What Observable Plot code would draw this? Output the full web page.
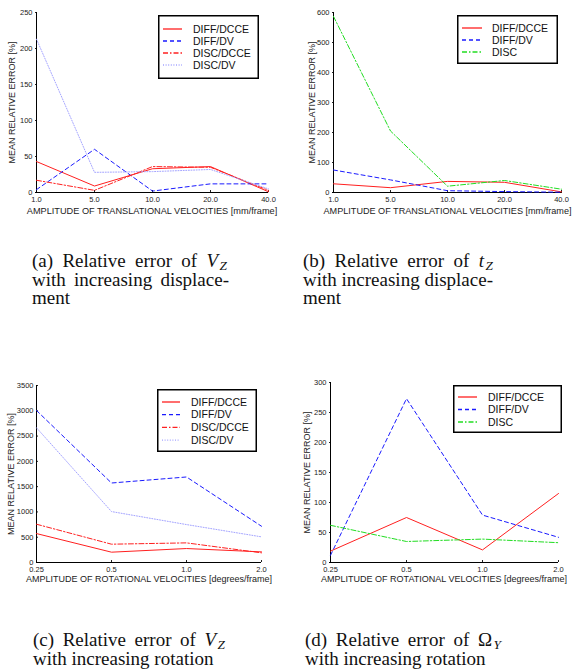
<!DOCTYPE html>
<html><head><meta charset="utf-8">
<script src="https://cdn.jsdelivr.net/npm/d3@7"></script>
<script src="https://cdn.jsdelivr.net/npm/@observablehq/plot@0.6"></script>
<style>
body{margin:0;background:#fff;}
#root{position:relative;width:573px;height:669px;overflow:hidden;background:#fff;}
.panel{position:absolute;}
.panel svg{overflow:visible;}
.legend{position:absolute;}
.cap{position:absolute;font-family:"Liberation Serif","Times New Roman",serif;font-size:19px;line-height:18.5px;color:#111;}
.cap .ln{display:block;white-space:nowrap;}
.cap .j{text-align:justify;text-align-last:justify;}
.cap sub{font-size:0.7em;vertical-align:-0.25em;line-height:0;margin-left:1.5px;}
</style></head><body><div id="root"></div>
<script>
// ---------- data ----------
const transCats = ["1.0","5.0","10.0","20.0","40.0"];
const rotCats = ["0.25","0.5","1.0","2.0"];
const namesA = ["DIFF/DCCE","DIFF/DV","DISC/DCCE","DISC/DV"];
const namesB = ["DIFF/DCCE","DIFF/DV","DISC"];
const namesC = ["DIFF/DCCE","DIFF/DV","DISC/DCCE","DISC/DV"];
const namesD = ["DIFF/DCCE","DIFF/DV","DISC"];
// (a) V_Z vs translational displacement
const a_diffDcce = [43, 9, 33, 36, 1];
const a_diffDv   = [4, 60, 2, 12, 12];
const a_discDcce = [17, 3, 36, 35, 3];
const a_discDv   = [213, 28, 29, 32, 5];
// (b) t_Z vs translational displacement
const b_diffDcce = [29, 16, 37, 34, 2];
const b_diffDv   = [75, 42, 6, 3, 1];
const b_disc     = [587, 205, 21, 40, 11];
// (c) V_Z vs rotation
const c_diffDcce = [572, 204, 276, 210];
const c_diffDv   = [3006, 1572, 1691, 717];
const c_discDcce = [757, 362, 388, 191];
const c_discDv   = [2664, 1007, 750, 507];
// (d) Omega_Y vs rotation
const d_diffDcce = [19, 75, 21, 115];
const d_diffDv   = [12, 273, 79, 42];
const d_disc     = [62, 35, 39, 33];
// tick values
const ticksA = [0, 50, 100, 150, 200, 250];
const ticksB = [0, 100, 200, 300, 400, 500, 600];
const ticksC = [0, 500, 1000, 1500, 2000, 2500, 3000, 3500];
const ticksD = [0, 50, 100, 150, 200, 250, 300];
const yLabel = "MEAN RELATIVE ERROR [%]";
const xLabelTrans = "AMPLITUDE OF TRANSLATIONAL VELOCITIES [mm/frame]";
const xLabelRot = "AMPLITUDE OF ROTATIONAL VELOCITIES [degrees/frame]";

// ---------- styles ----------
const styles = {
  "DIFF/DCCE": {stroke: "#ff2020", dash: null},
  "DIFF/DV":   {stroke: "#1a1aff", dash: "4,3"},
  "DISC/DCCE": {stroke: "#ff2020", dash: "5,2,1.5,2"},
  "DISC/DV":   {stroke: "#a4a4ff", dash: "1,1.6"},
  "DISC":      {stroke: "#22dd22", dash: "5,2,1.5,2"}
};
const root = document.getElementById("root");

function panel(cfg) {
  const rows = [];
  cfg.names.forEach((n, i) => cfg.series[i].forEach((v, j) => rows.push({s: n, x: cfg.cats[j], y: v})));
  const chart = Plot.plot({
    width: cfg.width, height: cfg.height,
    marginLeft: cfg.m[0], marginTop: cfg.m[1], marginRight: cfg.m[2], marginBottom: cfg.m[3],
    style: {fontFamily: "'Liberation Sans', Arial, sans-serif", fontSize: "7.5px", color: "#222", background: "transparent"},
    x: {type: "point", domain: cfg.cats, padding: 0},
    y: {domain: [0, cfg.ticks[cfg.ticks.length - 1]]},
    marks: [
      Plot.axisY({ticks: cfg.ticks, tickFormat: d3.format("d"), tickSize: -2, tickPadding: 5,
        label: yLabel, labelAnchor: "center", labelOffset: cfg.ylo, labelArrow: "none"}),
      Plot.axisX({tickSize: -2, tickPadding: 6, label: cfg.xLabel, labelAnchor: "center", labelOffset: cfg.xlo, labelArrow: "none"}),
      Plot.ruleX([cfg.cats[0]], {stroke: "#000"}),
      Plot.ruleY([0], {stroke: "#000"}),
      ...cfg.names.map(n => Plot.line(rows.filter(r => r.s === n),
        {x: "x", y: "y", stroke: styles[n].stroke, strokeDasharray: styles[n].dash, strokeWidth: 1}))
    ]
  });
  const setFs = (sel, fs) => chart.querySelectorAll(sel).forEach(g => {
    g.setAttribute("font-size", fs);
    g.querySelectorAll("text").forEach(t => t.setAttribute("font-size", fs));
  });
  setFs('[aria-label="x-axis label"]', cfg.xfs);
  setFs('[aria-label="y-axis label"]', "9px");
  const div = document.createElement("div");
  div.className = "panel";
  div.style.left = cfg.left + "px";
  div.style.top = cfg.top + "px";
  div.appendChild(chart);
  root.appendChild(div);
  // legend
  const L = cfg.legend;
  const svg = d3.select(root).append("svg").attr("class", "legend")
    .style("left", L.x + "px").style("top", L.y + "px")
    .attr("width", L.w).attr("height", L.h);
  svg.append("rect").attr("x", 0.75).attr("y", 0.75).attr("width", L.w - 1.5).attr("height", L.h - 1.5)
    .attr("fill", "#fff").attr("stroke", "#000").attr("stroke-width", 1.5);
  cfg.names.forEach((n, i) => {
    const yy = L.r0 + i * L.dr;
    svg.append("line").attr("x1", L.s0).attr("x2", L.s1).attr("y1", yy).attr("y2", yy)
      .attr("stroke", styles[n].stroke).attr("stroke-width", 1.3)
      .attr("stroke-dasharray", styles[n].dash);
    svg.append("text").attr("x", L.t).attr("y", yy).attr("dy", "0.35em")
      .attr("font-family", "'Liberation Sans', Arial, sans-serif").attr("font-size", "10.5px")
      .attr("fill", "#111").text(n);
  });
}

panel({left: 0, top: 0, width: 290, height: 220, m: [35, 12, 22, 28],
  cats: transCats, names: namesA, series: [a_diffDcce, a_diffDv, a_discDcce, a_discDv],
  ticks: ticksA, xLabel: xLabelTrans, ylo: 27, xlo: 21, xfs: "9.2px",
  legend: {x: 158, y: 15, w: 101, h: 64, r0: 14, dr: 12, s0: 5, s1: 24, t: 35}});
panel({left: 285, top: 0, width: 288, height: 220, m: [47, 12, 11, 28],
  cats: transCats, names: namesB, series: [b_diffDcce, b_diffDv, b_disc],
  ticks: ticksB, xLabel: xLabelTrans, ylo: 24, xlo: 21, xfs: "9.1px",
  legend: {x: 457, y: 15, w: 101, h: 49, r0: 13, dr: 12, s0: 5, s1: 25, t: 35}});
panel({left: 0, top: 370, width: 290, height: 240, m: [36, 15, 29, 48],
  cats: rotCats, names: namesC, series: [c_diffDcce, c_diffDv, c_discDcce, c_discDv],
  ticks: ticksC, xLabel: xLabelRot, ylo: 29, xlo: 19, xfs: "9px",
  legend: {x: 157, y: 389, w: 100, h: 63, r0: 13, dr: 12.7, s0: 5, s1: 23, t: 34}});
panel({left: 285, top: 370, width: 288, height: 240, m: [44, 12, 15, 48],
  cats: rotCats, names: namesD, series: [d_diffDcce, d_diffDv, d_disc],
  ticks: ticksD, xLabel: xLabelRot, ylo: 26, xlo: 19, xfs: "9px",
  legend: {x: 453, y: 385, w: 109, h: 48, r0: 12, dr: 12.5, s0: 5, s1: 24, t: 35}});

// ---------- captions ----------
const captions = [
  {x: 32, y: 252, lines: [["(a) Relative error of <i>V</i><sub><i>Z</i></sub>", 195], ["with increasing displace-", 197], ["ment", 0]]},
  {x: 303, y: 252, lines: [["(b) Relative error of <i>t</i><sub><i>Z</i></sub>", 190], ["with increasing displace-", 190], ["ment", 0]]},
  {x: 33, y: 631, lines: [["(c) Relative error of <i>V</i><sub><i>Z</i></sub>", 192], ["with increasing rotation", 0]]},
  {x: 305, y: 631, lines: [["(d) Relative error of &Omega;<sub><i>Y</i></sub>", 196], ["with increasing rotation", 0]]}
];
captions.forEach(c => {
  const d = document.createElement("div");
  d.className = "cap";
  d.style.left = c.x + "px";
  d.style.top = c.y + "px";
  d.innerHTML = c.lines.map(([t, w]) => w ? `<span class="ln j" style="width:${w}px">${t}</span>` : `<span class="ln">${t}</span>`).join("");
  root.appendChild(d);
});
</script>
</body></html>
